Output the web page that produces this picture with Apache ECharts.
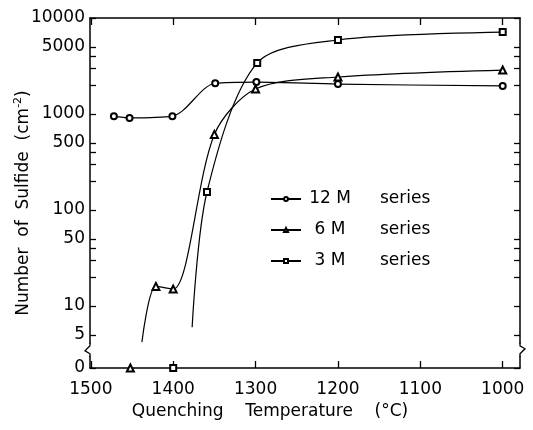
<!DOCTYPE html>
<html>
<head>
<meta charset="utf-8">
<script src="https://cdn.jsdelivr.net/npm/echarts@6/dist/echarts.min.js"></script>
<style>
  html, body { margin: 0; padding: 0; background: #fff; }
  #chart { width: 533px; height: 430px; }
</style>
</head>
<body>
<div id="chart"></div>
<script>
// quenching temperature (°C) and number of sulfide (cm^-2)
// a value of 0 sits on the broken bottom of the axis
const temp12 = [1472, 1453, 1401, 1349, 1299, 1200, 1000]
const val12 = [950, 910, 950, 2090, 2150, 2050, 1960]

const temp6 = [1452, 1438, 1421, 1400, 1350, 1300, 1200, 1000]
const val6 = [0, 4.2, 16, 15, 613, 1820, 2430, 2870]

const temp3 = [1400, 1377, 1359, 1298, 1200, 1000]
const val3 = [0, 6, 154, 3400, 5900, 7140]

// index of the point where a curve starts without a marker
const tail6 = 1
const tail3 = 1

const xTicks = [1500, 1400, 1300, 1200, 1100, 1000]
const yLabels = [0, 5, 10, 50, 100, 500, 1000, 5000, 10000]
const yMinor = [20, 30, 40, 200, 300, 400, 2000, 3000, 4000]

const FONT = 'DejaVu Sans'
const yMin = Math.log10(2.26)
const yMax = 4
const ly = v => (v === 0 ? yMin : Math.log10(v))

function buildData(temps, vals, tail) {
  const out = []
  temps.forEach((t, i) => {
    const item = { value: [t, ly(vals[i])] }
    if (i === tail) item.symbol = 'none'
    out.push(item)
    // zero points stand alone, not joined to the curve
    if (vals[i] === 0 && i < temps.length - 1) out.push([(t + temps[i + 1]) / 2, '-'])
  })
  return out
}

const yLabelVals = yLabels.map(ly)
const yTickVals = yLabels.concat(yMinor).map(ly)

const chart = echarts.init(document.getElementById('chart'))

const lineBase = {
  type: 'line',
  smooth: 0.3,
  clip: false,
  symbolSize: 6,
  lineStyle: { color: '#000', width: 1.2 },
  itemStyle: { color: '#000', borderWidth: 1.2 },
  emphasis: { disabled: true },
  animation: false
}

const axisCommon = {
  axisLine: { lineStyle: { color: '#000', width: 1.5 } },
  splitLine: { show: false }
}

chart.setOption({
  textStyle: { fontFamily: FONT },
  grid: { left: 90, right: 13, top: 18, bottom: 62 },
  legend: {
    orient: 'vertical',
    left: 265,
    top: 184,
    itemWidth: 30,
    itemHeight: 5,
    itemGap: 11,
    selectedMode: false,
    formatter: name => `{a|${name}}{b|series}`,
    textStyle: {
      color: '#000',
      fontSize: 17,
      lineHeight: 20,
      rich: {
        a: { width: 48, align: 'right', fontSize: 17, fontFamily: FONT, color: '#000' },
        b: { padding: [0, 0, 0, 26], fontSize: 17, fontFamily: FONT, color: '#000' }
      }
    },
    data: ['12 M', '6 M', '3 M']
  },
  xAxis: [
    {
      ...axisCommon,
      type: 'value',
      min: 979,
      max: 1501,
      inverse: true,
      name: 'Quenching    Temperature    (°C)',
      nameLocation: 'middle',
      nameGap: 35,
      nameMoveOverlap: false,
      nameTextStyle: { color: '#000', fontSize: 17, padding: [0, 70, 0, 0] },
      axisTick: { inside: true, length: 7, customValues: xTicks, lineStyle: { color: '#000', width: 1.3 } },
      axisLabel: { customValues: xTicks, color: '#000', fontSize: 17, margin: 13, formatter: v => String(v) }
    },
    {
      ...axisCommon,
      type: 'value',
      position: 'top',
      min: 979,
      max: 1501,
      inverse: true,
      axisTick: { inside: true, length: 7, customValues: xTicks, lineStyle: { color: '#000', width: 1.3 } },
      axisLabel: { show: false }
    }
  ],
  yAxis: [
    {
      ...axisCommon,
      type: 'value',
      min: yMin,
      max: yMax,
      name: 'Number  of  Sulfide  (cm{sup|-2})',
      nameLocation: 'middle',
      nameGap: 56,
      nameMoveOverlap: false,
      nameTextStyle: {
        color: '#000',
        fontSize: 17,
        padding: [0, 20, 0, 0],
        rich: { sup: { fontSize: 11, fontFamily: FONT, color: '#000', padding: [0, 0, 10, 0] } }
      },
      axisTick: { inside: true, length: 6, customValues: yTickVals, lineStyle: { color: '#000', width: 1.3 } },
      axisLabel: {
        customValues: yLabelVals,
        color: '#000',
        fontSize: 17,
        margin: 5,
        formatter: v => (Math.abs(v - yMin) < 1e-6 ? '0' : String(Math.round(Math.pow(10, v))))
      }
    },
    {
      ...axisCommon,
      type: 'value',
      position: 'right',
      min: yMin,
      max: yMax,
      axisTick: { inside: true, length: 6, customValues: yTickVals, lineStyle: { color: '#000', width: 1.3 } },
      axisLabel: { show: false }
    }
  ],
  series: [
    { ...lineBase, name: '12 M', symbol: 'emptyCircle', data: buildData(temp12, val12, -1) },
    { ...lineBase, name: '6 M', symbol: 'emptyTriangle', symbolSize: 7, data: buildData(temp6, val6, tail6) },
    { ...lineBase, name: '3 M', symbol: 'emptyRect', data: buildData(temp3, val3, tail3) }
  ]
})

// axis break marks just above the "0" level
const bx = chart.convertToPixel({ xAxisIndex: 0 }, 1501)
const bx2 = chart.convertToPixel({ xAxisIndex: 0 }, 979)
const by = chart.convertToPixel({ yAxisIndex: 0 }, Math.log10(3.5))
chart.setOption({
  graphic: [
    { type: 'rect', shape: { x: bx - 2, y: by - 6, width: 4, height: 12 }, style: { fill: '#fff' }, z: 100 },
    { type: 'polyline', shape: { points: [[bx, by - 7], [bx, by - 4], [bx - 5, by + 1], [bx, by + 4], [bx, by + 7]] }, style: { stroke: '#000', lineWidth: 1.3, fill: null }, z: 101 },
    { type: 'rect', shape: { x: bx2 - 2, y: by - 6, width: 4, height: 12 }, style: { fill: '#fff' }, z: 100 },
    { type: 'polyline', shape: { points: [[bx2, by - 7], [bx2, by - 4], [bx2 + 5, by - 1], [bx2, by + 4], [bx2, by + 7]] }, style: { stroke: '#000', lineWidth: 1.3, fill: null }, z: 101 }
  ]
})
</script>
</body>
</html>
